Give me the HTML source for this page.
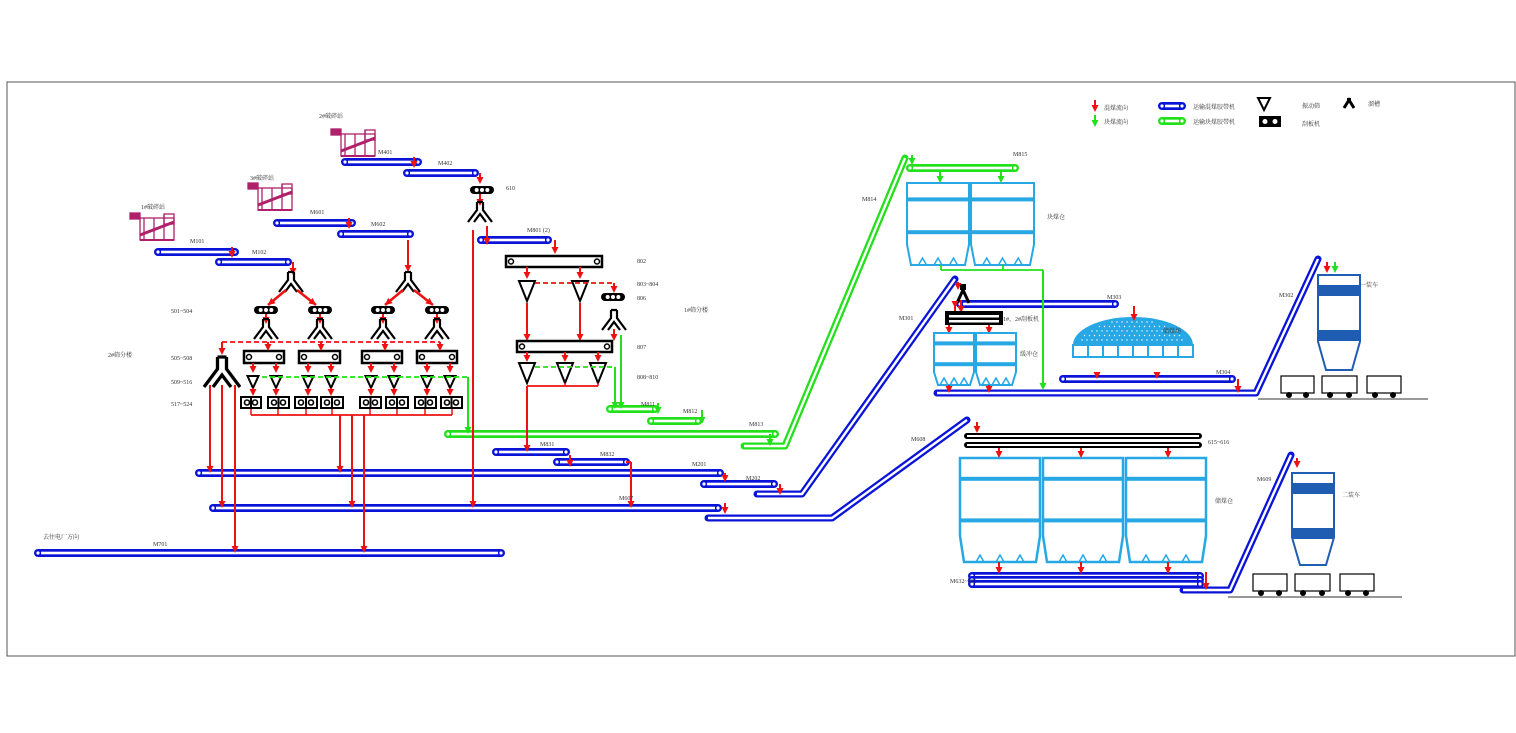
<!DOCTYPE html>
<html><head><meta charset="utf-8"><style>
html,body{margin:0;padding:0;background:#fff;}
svg{display:block}
text{font-family:"Liberation Serif","Noto Serif CJK SC",serif;font-size:6px;fill:#333}
</style></head><body>
<svg id="s" width="1516" height="733" viewBox="0 0 1516 733" xmlns="http://www.w3.org/2000/svg">
<rect x="7" y="82" width="1508" height="574" fill="none" stroke="#555" stroke-width="1"/>
<g id="g"></g>
<text x="319" y="118">2#破碎站</text>
<text x="250" y="180">3#破碎站</text>
<text x="141" y="209">1#破碎站</text>
<text x="378" y="154">M401</text><text x="438" y="165">M402</text>
<text x="310" y="214">M601</text><text x="371" y="226">M602</text>
<text x="190" y="243">M101</text><text x="252" y="254">M102</text>
<text x="506" y="190">610</text>
<text x="527" y="232">M801 (2)</text>
<text x="637" y="263">802</text><text x="637" y="286">803~804</text><text x="637" y="300">806</text>
<text x="684" y="312">1#筛分楼</text>
<text x="637" y="349">807</text><text x="637" y="379">808~810</text>
<text x="171" y="313">501~504</text><text x="171" y="360">505~508</text>
<text x="171" y="384">509~516</text><text x="171" y="406">517~524</text>
<text x="108" y="357">2#筛分楼</text>
<text x="641" y="406">M811</text><text x="683" y="413">M812</text><text x="749" y="426">M813</text>
<text x="540" y="446">M831</text><text x="600" y="456">M832</text>
<text x="692" y="466">M201</text><text x="746" y="480">M202</text>
<text x="619" y="500">M607</text><text x="153" y="546">M701</text>
<text x="43" y="539">去往电厂方向</text>
<text x="862" y="201">M814</text><text x="1013" y="156">M815</text>
<text x="1047" y="219">块煤仓</text>
<text x="899" y="320">M301</text>
<text x="1003" y="321">1#、2#刮板机</text>
<text x="1020" y="356">缓冲仓</text>
<text x="1107" y="299">M303</text><text x="1163" y="333">储煤场</text>
<text x="1216" y="374">M304</text>
<text x="1279" y="297">M302</text><text x="1360" y="287">一装车</text>
<text x="911" y="441">M608</text><text x="1208" y="444">615~616</text>
<text x="1215" y="503">储煤仓</text>
<text x="1257" y="481">M609</text><text x="1342" y="497">二装车</text>
<text x="950" y="583">M632~633</text>
<text x="1104" y="110">混煤流向</text><text x="1104" y="124">块煤流向</text>
<text x="1193" y="109">运输混煤胶带机</text><text x="1193" y="124">运输块煤胶带机</text>
<text x="1302" y="108">振动筛</text><text x="1302" y="126">刮板机</text>
<text x="1368" y="106">溜槽</text>
</svg>
<script>
var g=document.getElementById('g'),h='';
var B='#0a14d8',G='#22e01a',R='#ee1111',C='#27a8e4',D='#1f5db3',M='#b0206a';
function belt(x1,x2,y,c){h+=`<rect x="${x1-4}" y="${y-4}" width="${x2-x1+8}" height="8" rx="4" fill="${c}"/><rect x="${x1+3}" y="${y-1.3}" width="${x2-x1-6}" height="2.6" fill="#fff"/><circle cx="${x1}" cy="${y}" r="1.6" fill="#fff"/><circle cx="${x2}" cy="${y}" r="1.6" fill="#fff"/>`;}
function pl(pts,c){h+=`<polyline points="${pts}" fill="none" stroke="${c}" stroke-width="7" stroke-linejoin="round" stroke-linecap="round"/><polyline points="${pts}" fill="none" stroke="#fff" stroke-width="2.4" stroke-linejoin="round"/>`;}
function ar(x,y1,y2,c,dash){c=c||R;h+=`<line x1="${x}" y1="${y1}" x2="${x}" y2="${y2-5}" stroke="${c}" stroke-width="2" ${dash?'stroke-dasharray="5,3"':''}/><polygon points="${x-3.5},${y2-7} ${x+3.5},${y2-7} ${x},${y2}" fill="${c}"/>`;}
function ln(x1,y1,x2,y2,c,w,dash){h+=`<line x1="${x1}" y1="${y1}" x2="${x2}" y2="${y2}" stroke="${c}" stroke-width="${w||2}" ${dash?'stroke-dasharray="5,3"':''}/>`;}
function arD(x1,y1,x2,y2){ln(x1,y1,x2,y2,R,2.5);var a=Math.atan2(y2-y1,x2-x1),l=7;h+=`<polygon points="${x2},${y2} ${x2-l*Math.cos(a)+3.5*Math.sin(a)},${y2-l*Math.sin(a)-3.5*Math.cos(a)} ${x2-l*Math.cos(a)-3.5*Math.sin(a)},${y2-l*Math.sin(a)+3.5*Math.cos(a)}" fill="${R}"/>`;}
function chute(x,y,s){s=s||1;h+=`<path d="M${x-3*s},${y-12*s} L${x-3*s},${y-4*s} L${x-12*s},${y+8*s} M${x+3*s},${y-12*s} L${x+3*s},${y-4*s} L${x+12*s},${y+8*s} M${x-3*s},${y-12*s} L${x+3*s},${y-12*s} M${x-6*s},${y+8*s} L${x},${y} L${x+6*s},${y+8*s}" fill="none" stroke="#000" stroke-width="${2.2*s}"/>`;}
function pill(x,y,w){h+=`<rect x="${x-w/2}" y="${y-4}" width="${w}" height="8" rx="4" fill="#000"/>`;for(var i=-1;i<=1;i++)h+=`<circle cx="${x+i*w/4.5}" cy="${y}" r="2" fill="#fff"/>`;}
function scr(x1,x2,y1,y2){h+=`<rect x="${x1}" y="${y1}" width="${x2-x1}" height="${y2-y1}" fill="#fff" stroke="#000" stroke-width="2.5"/><circle cx="${x1+5}" cy="${(y1+y2)/2}" r="2.5" fill="none" stroke="#000" stroke-width="1.5"/><circle cx="${x2-5}" cy="${(y1+y2)/2}" r="2.5" fill="none" stroke="#000" stroke-width="1.5"/>`;}
function tri(x,y,w,ht){h+=`<polygon points="${x-w/2},${y} ${x+w/2},${y} ${x},${y+ht}" fill="#fff" stroke="#000" stroke-width="2"/>`;}
function box(x1,x2,y1,y2){h+=`<rect x="${x1}" y="${y1}" width="${x2-x1}" height="${y2-y1}" fill="#000"/><rect x="${x1+2}" y="${y1+2}" width="${x2-x1-4}" height="${y2-y1-4}" fill="#fff"/><circle cx="${x1+7}" cy="${(y1+y2)/2}" r="2.5" fill="none" stroke="#000" stroke-width="1.6"/><circle cx="${x2-7}" cy="${(y1+y2)/2}" r="2.5" fill="none" stroke="#000" stroke-width="1.6"/><rect x="${(x1+x2)/2-1}" y="${y1+2}" width="2" height="${y2-y1-4}" fill="#000"/>`;}
function crusher(x,y){h+=`<g stroke="${M}" stroke-width="1.3" fill="none"><rect x="${x}" y="${y+3}" width="10" height="6" fill="${M}"/><rect x="${x+10}" y="${y+8}" width="34" height="22"/><line x1="${x+10}" y1="${y+25}" x2="${x+44}" y2="${y+12}" stroke-width="3"/><line x1="${x+14}" y1="${y+8}" x2="${x+14}" y2="${y+30}"/><line x1="${x+24}" y1="${y+8}" x2="${x+24}" y2="${y+30}"/><line x1="${x+34}" y1="${y+4}" x2="${x+34}" y2="${y+30}"/><rect x="${x+34}" y="${y+4}" width="10" height="10"/><line x1="${x+10}" y1="${y+30}" x2="${x+44}" y2="${y+30}" stroke-width="2"/></g>`;}
function silo(x1,x2,y1,y2,c,w){var m=(x2-x1);var a=y1+(y2-y1)*0.2,b=y1+(y2-y1)*0.6,cc=y1+(y2-y1)*0.75;h+=`<g stroke="${c}" stroke-width="${w||2}" fill="#fff"><path d="M${x1},${y1} L${x2},${y1} L${x2},${cc} L${x2-4},${y2} L${x1+4},${y2} L${x1},${cc} Z"/></g><rect x="${x1}" y="${a-2}" width="${m}" height="4" fill="${c}"/><rect x="${x1}" y="${b-2}" width="${m}" height="4" fill="${c}"/>`;var p=`M${x1+4},${y2}`;for(var i=1;i<=3;i++){var cx=x1+m*i/4;p+=` L${cx-4},${y2} L${cx},${y2-7} L${cx+4},${y2}`;}h+=`<path d="${p}" fill="none" stroke="${c}" stroke-width="1.5"/>`;}
function loadsilo(x1,x2,y1,y2){var m=x2-x1;h+=`<path d="M${x1},${y1} L${x2},${y1} L${x2},${y1+(y2-y1)*0.7} L${x2-8},${y2} L${x1+8},${y2} L${x1},${y1+(y2-y1)*0.7} Z" fill="#fff" stroke="${D}" stroke-width="2"/><rect x="${x1}" y="${y1+10}" width="${m}" height="11" fill="${D}"/><rect x="${x1}" y="${y1+55}" width="${m}" height="11" fill="${D}"/>`;}
function car(x1,x2,y){h+=`<rect x="${x1}" y="${y}" width="${x2-x1}" height="17" fill="#fff" stroke="#000" stroke-width="1.2"/><circle cx="${x1+8}" cy="${y+19}" r="3" fill="#000"/><circle cx="${x2-8}" cy="${y+19}" r="3" fill="#000"/>`;}
crusher(130,210);crusher(248,180);crusher(331,126);
belt(158,235,252,B);belt(219,288,262,B);belt(277,352,223,B);belt(341,410,234,B);belt(345,418,162,B);belt(407,475,173,B);belt(481,548,240,B);
belt(496,566,452,B);belt(557,626,462,B);belt(199,720,473,B);belt(704,774,484,B);belt(213,718,508,B);belt(38,501,553,B);
pl("757,494 802,494 955,279",B);pl("708,518 832,518 967,420",B);
belt(960,1115,304,B);belt(1063,1232,379,B);pl("937,393 1256,393 1318,259",B);
belt(972,1200,576,B);belt(972,1200,580,B);belt(972,1200,584,B);pl("1183,590 1230,590 1291,455",B);
belt(448,775,434,G);belt(610,655,409,G);belt(651,698,421,G);pl("744,446 785,446 905,158",G);belt(910,1015,168,G);
h+=`<rect x="964" y="433" width="238" height="6" rx="3" fill="#000"/><rect x="967" y="435" width="232" height="2" fill="#fff"/><rect x="964" y="442" width="238" height="6" rx="3" fill="#000"/><rect x="967" y="444" width="232" height="2" fill="#fff"/>`;
ar(232,247,258);ar(293,262,275);ar(349,218,229);ar(414,157,168);ar(480,173,184);ar(480,194,206);ar(487,226,245);ar(408,240,272);ar(555,240,254);
chute(291,284);chute(408,284);
arD(286,290,268,305);arD(297,290,316,305);arD(403,290,385,305);arD(414,290,433,305);
pill(266,310,24);pill(320,310,24);pill(383,310,24);pill(437,310,24);pill(482,190,24);pill(613,297,24);
[266,320,383,437].forEach(x=>{ar(x,314,324);chute(x,331);});
chute(480,214);chute(614,322);
ln(222,342,440,342,R,1.8,1);ar(222,342,355);
[[244,284],[299,340],[362,402],[417,457]].forEach(p=>scr(p[0],p[1],351,363));
[268,321,385,440].forEach(x=>ar(x,342,351));
[253,276,308,331,371,394,427,450].forEach(x=>{ar(x,363,373);tri(x,376,11,12);ar(x,388,396);});
[[240,262],[267,290],[294,318],[320,344],[359,382],[385,409],[414,437],[440,463]].forEach(p=>box(p[0],p[1],396,409));
ln(251,409,251,415,R,1.5);ln(251,415,452,415,R,1.8);[278,306,332,370,397,425,452].forEach(x=>ln(x,409,x,415,R,1.5));
chute(222,375,1.5);
ar(210,385,473);ar(222,385,508);ar(235,385,553);ar(340,415,473);ar(352,415,508);ar(364,415,553);
ar(473,230,508);
ln(262,377,468,377,G,1.8,1);ar(468,377,434,G);
scr(506,602,256,267);ar(527,267,279);ar(580,267,279);tri(527,281,16,20);tri(580,281,16,20);
ln(535,283,614,283,R,1.8,1);ar(614,283,293);
ar(527,303,341);ar(580,303,341);ar(614,329,341);
scr(517,612,341,352);ar(527,352,362);ar(565,352,362);ar(598,352,362);
tri(527,363,16,20);tri(565,363,16,20);tri(598,363,16,20);
ln(527,386,598,386,R,1.8);ln(565,383,565,386,R,1.5);ln(598,383,598,386,R,1.5);ar(527,386,452);
ln(535,367,615,367,G,1.8,1);ar(615,367,409,G);ar(621,335,409,G);
ar(570,455,467);ar(631,462,508);ln(626,462,631,462,R,2);ar(702,410,424,G);ar(658,403,414,G);ar(770,434,446,G);
ar(725,473,482);ar(780,484,495);ar(725,503,514);
ar(912,155,165,G);silo(907,969,183,265,C);silo(971,1034,183,265,C);ar(940,171,183,G);ar(1001,171,183,G);
ln(941,265,941,270,G,1.8);ln(1003,265,1003,270,G,1.8);ln(941,270,1043,270,G,1.8);ar(1043,270,390,G);
h+=`<path d="M957,303 L963,290 L969,303" fill="none" stroke="#000" stroke-width="3"/><rect x="960" y="284" width="6" height="6" fill="#000"/>`;ar(958,282,290);ar(961,300,313);ar(955,322,308);
h+=`<rect x="945" y="311" width="58" height="14" fill="#000"/><rect x="949" y="315" width="50" height="2.5" fill="#fff"/><rect x="949" y="320" width="50" height="2.5" fill="#fff"/>`;
ar(949,325,334);ar(989,325,334);
silo(934,974,333,385,C);silo(976,1016,333,385,C);ar(949,385,393);ar(989,385,393);
h+=`<path d="M1073,345 A60,28 0 0 1 1193,345 Z" fill="${C}"/>`;
for(var i=0;i<8;i++)h+=`<rect x="${1073+i*15}" y="345" width="15" height="12" fill="#fff" stroke="${C}" stroke-width="2"/>`;
for(var r=0;r<5;r++)for(var c=0;c<22;c++){var xx=1082+c*5+(r%2)*2.5,yy=322+r*4.5;if(Math.pow((xx-1133)/60,2)+Math.pow((yy-345)/28,2)<0.8)h+=`<circle cx="${xx}" cy="${yy}" r="0.7" fill="#fff"/>`;}
ar(1134,306,321);ar(1097,372,379);ar(1157,372,379);ar(1238,379,393);
loadsilo(1318,1360,275,370);ar(1327,262,273);ar(1335,262,273,G);
ln(1258,399,1428,399,'#333',1);car(1281,1314,376);car(1322,1357,376);car(1367,1401,376);
ar(977,422,433);silo(960,1040,458,562,C,2.5);silo(1043,1123,458,562,C,2.5);silo(1126,1206,458,562,C,2.5);
ar(999,448,458);ar(1081,448,458);ar(1168,448,458);ar(999,562,574);ar(1081,562,574);ar(1168,562,574);ar(1206,572,590);
loadsilo(1292,1334,473,565);ar(1297,458,468);
ln(1228,597,1402,597,'#333',1);car(1253,1287,574);car(1295,1330,574);car(1340,1374,574);
ar(1095,100,112);ar(1095,115,127,G);belt(1162,1182,106,B);belt(1162,1182,121,G);
tri(1264,98,12,12);h+=`<rect x="1259" y="116" width="22" height="11" fill="#000"/><circle cx="1265" cy="121.5" r="2.5" fill="#fff"/><circle cx="1275" cy="121.5" r="2.5" fill="#fff"/>`;
h+=`<path d="M1344,108 L1349,100 L1354,108" fill="none" stroke="#000" stroke-width="3"/><rect x="1347" y="98" width="4" height="5" fill="#000"/>`;
g.innerHTML=h;
</script>
</body></html>
